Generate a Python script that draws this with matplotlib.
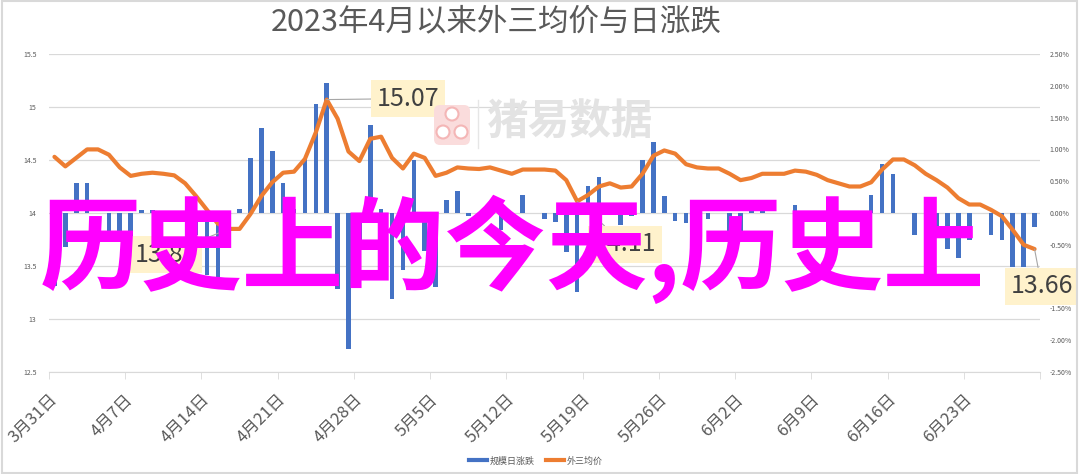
import numpy as np
import pandas as pd
import matplotlib.pyplot as plt
from matplotlib.lines import Line2D
from matplotlib.patches import Rectangle, FancyBboxPatch, Circle
from matplotlib.ticker import FuncFormatter

plt.rcParams['font.family'] = ['Noto Sans CJK SC', 'DejaVu Sans']

# data (daily, 3/31 - 6/29)
dates = pd.date_range('2023-03-31', periods=91, freq='D')
avg_price = [
    14.53, 14.44, 14.52, 14.60, 14.60, 14.55, 14.43, 14.35, 14.37, 14.38,
    14.37, 14.355, 14.28, 14.16, 14.03, 13.90, 13.85, 13.85, 13.99, 14.16,
    14.29, 14.38, 14.39, 14.51, 14.76, 15.07, 14.89, 14.58, 14.49, 14.70,
    14.72, 14.52, 14.42, 14.56, 14.52, 14.35, 14.38, 14.43, 14.42, 14.415,
    14.43, 14.40, 14.37, 14.41, 14.41, 14.41, 14.40, 14.31, 14.11, 14.17,
    14.25, 14.28, 14.24, 14.25, 14.37, 14.54, 14.59, 14.56, 14.46, 14.43,
    14.42, 14.42, 14.37, 14.31, 14.33, 14.37, 14.37, 14.37, 14.40, 14.39,
    14.36, 14.31, 14.28, 14.25, 14.25, 14.29, 14.41, 14.505, 14.505, 14.45,
    14.37, 14.31, 14.24, 14.14, 14.08, 14.08, 14.03, 13.97, 13.84, 13.70,
    13.66,
]
nan = np.nan
daily_change = [  # %
    -1.14, -0.54, 0.47, 0.47, nan, -0.32, -0.45, -0.45, 0.05, 0.05,
    -0.10, -0.10, nan, -0.35, -0.98, -1.12, -0.14, 0.07, 0.86, 1.34,
    0.98, 0.47, 0.07, 0.85, 1.72, 2.04, -1.19, -2.14, -0.48, 1.38,
    0.07, -1.35, -0.90, 0.83, -0.60, -1.17, 0.20, 0.35, -0.05, -0.05,
    nan, -0.26, -0.14, 0.28, nan, -0.10, -0.14, -0.61, -1.24, 0.42,
    0.56, 0.13, -0.19, -0.05, 0.84, 1.12, 0.27, -0.13, -0.15, -0.27,
    -0.10, nan, -0.30, -0.35, 0.14, 0.21, nan, nan, 0.13, -0.05,
    -0.05, nan, -0.05, -0.05, nan, 0.28, 0.77, 0.62, nan, -0.35,
    nan, -0.35, -0.56, -0.70, -0.42, nan, -0.35, -0.43, -0.85, -0.85,
    -0.22,
]
price_ticks = [12.5, 13, 13.5, 14, 14.5, 15, 15.5]
pct_ticks = [-2.5, -2.0, -1.5, -1.0, -0.5, 0.0, 0.5, 1.0, 1.5, 2.0, 2.5]
labelled_days = [25, 16, 48, 90]
label_offsets = [(81, 1), (-63, -26), (48, -43), (7, -37)]

title = '2023年4月以来外三均价与日涨跌'
overlay = '历史上的今天,历史上'

W, H = 1080, 474
x = np.arange(len(dates))

fig = plt.figure(figsize=(W / 100, H / 100), dpi=100)
ax = fig.add_axes([49 / W, 1 - 372 / H, (1040 - 49) / W, (372 - 54) / H])
ax.set_xlim(-0.5, len(dates) - 0.5)
ax.set_ylim(12.5, 15.5)
ax.set_yticks(price_ticks)
ax.yaxis.set_major_formatter(FuncFormatter(lambda v, p: f'{v:g}'))
ax.grid(axis='y', color='#d9d9d9', lw=0.9)
ax.set_axisbelow(True)
for s in ['top', 'left', 'right']:
    ax.spines[s].set_visible(False)
ax.spines['bottom'].set_color('#d9d9d9')
ax.tick_params(axis='y', length=0, labelsize=5, labelcolor='#595959', pad=9)

week_pos = x[::7][:13]
ax.set_xticks(week_pos)
ax.set_xticklabels([f'{d.month}月{d.day}日' for d in dates[week_pos]])
ax.set_xticks(np.arange(-0.5, len(dates), 7), minor=True)
ax.tick_params(axis='x', which='major', length=0, pad=18, labelsize=12,
               labelcolor='#595959')
ax.tick_params(axis='x', which='minor', length=5, color='#d9d9d9')
for lbl in ax.get_xticklabels():
    lbl.set_rotation(45)
    lbl.set_ha('right')
    lbl.set_va('center')
    lbl.set_rotation_mode('anchor')

ax2 = ax.twinx()
ax2.set_ylim(-2.5, 2.5)
ax2.set_yticks(pct_ticks)
ax2.yaxis.set_major_formatter(FuncFormatter(lambda v, p: f'{v:.2f}%'))
ax2.tick_params(axis='y', length=0, labelsize=5, labelcolor='#595959', pad=7)
for s in ax2.spines.values():
    s.set_visible(False)

ax2.bar(x, daily_change, width=0.42, color='#4472c4', zorder=2)
ax2.plot(x, avg_price, transform=ax.transData, color='#ed7d31', lw=3,
         solid_joinstyle='round', solid_capstyle='round', zorder=3)

for d, off in zip(labelled_days, label_offsets):
    ax2.annotate(f'{avg_price[d]:.2f}', xy=(d, avg_price[d]), xycoords=ax.transData,
                 xytext=off, textcoords='offset pixels', ha='center', va='center',
                 fontsize=18, color='#404040', zorder=4,
                 bbox=dict(boxstyle='square,pad=0.22', fc='#fff2cc', ec='none'),
                 arrowprops=dict(arrowstyle='-', color='#a6a6a6', lw=0.8,
                                 shrinkA=0, shrinkB=0))

# watermark
T = fig.dpi_scale_trans
fig.patches.append(FancyBboxPatch((434 / 100, (H - 145) / 100), 0.36, 0.40,
                                  boxstyle='round,pad=0,rounding_size=0.06',
                                  fc='#fadcdc', ec='none', transform=T))
for cx, cy in [(452, 114), (443, 132), (461, 132)]:
    fig.patches.append(Circle((cx / 100, (H - cy) / 100), 0.065, fc='white',
                              ec='#f4b6b6', lw=1.5, transform=T))
fig.lines.append(Line2D([478 / W, 478 / W], [1 - 100 / H, 1 - 148 / H],
                        color='#e6e6e6', lw=1, transform=fig.transFigure))
fig.text(486 / W, 1 - 123 / H, '猪易数据', fontsize=30, weight='bold',
         color='#e3e3e3', ha='left', va='center')

fig.text(496 / W, 1 - 22 / H, title, fontsize=22, color='#595959',
         ha='center', va='center')

fig.legend(handles=[Line2D([], [], color='#4472c4', lw=3),
                    Line2D([], [], color='#ed7d31', lw=3)],
           labels=['规模日涨跌', '外三均价'], loc='center',
           bbox_to_anchor=(536 / W, 1 - 461 / H), ncol=2, frameon=False,
           fontsize=6.5, labelcolor='#595959', handlelength=2,
           handletextpad=0.3, columnspacing=1.2)

fig.text(40 / W, 1 - 249 / H, overlay, fontsize=73, color='#ff00ff',
         weight='bold', ha='left', va='center')

fig.patches.append(Rectangle((0.002, 0.003), 0.995, 0.994, transform=fig.transFigure,
                             fill=False, ec='#d9d9d9', lw=1.5))

fig.savefig('out.png', dpi=100)
